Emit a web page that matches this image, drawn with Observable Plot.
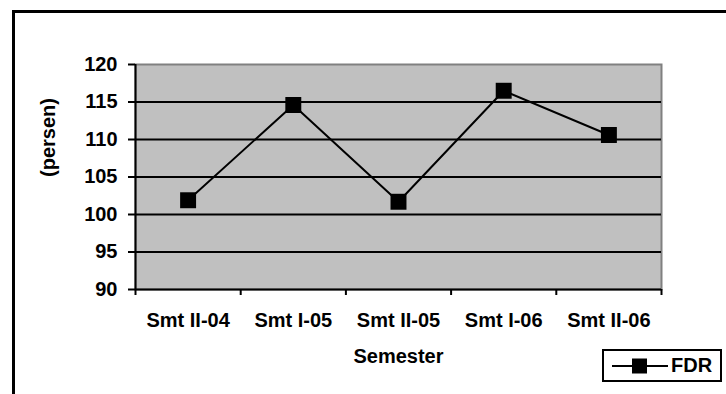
<!DOCTYPE html>
<html>
<head>
<meta charset="utf-8">
<script src="https://cdn.jsdelivr.net/npm/d3@7"></script>
<script src="https://cdn.jsdelivr.net/npm/@observablehq/plot@0.6"></script>
<style>
  html, body { margin: 0; padding: 0; background: #fff; overflow: hidden; }
  #wrap { position: relative; width: 726px; height: 394px; overflow: hidden;
          font-family: "Liberation Sans", Arial, sans-serif; }
  #border { position: absolute; left: 12px; top: 10px; width: 900px; height: 600px;
            border-top: 3px solid #000; border-left: 3px solid #000; box-sizing: border-box; }
  #chart { position: absolute; left: 0; top: 0; }
  #legend { position: absolute; left: 602px; top: 349px; width: 120px; height: 33px;
            box-sizing: border-box; border: 2px solid #000; background: #fff;
            display: flex; align-items: center; font-weight: bold; font-size: 20px; }
  #legend svg { margin-left: 8px; margin-right: 3px; }
</style>
</head>
<body>
<div id="wrap">
  <div id="border"></div>
  <div id="chart"></div>
  <div id="legend">
    <svg width="56" height="20"><line x1="0" y1="10" x2="56" y2="10" stroke="#000" stroke-width="2"/><rect x="20" y="2.5" width="15" height="15" fill="#000"/></svg>
    <span>FDR</span>
  </div>
</div>
<script>
// Semester labels and FDR values (persen)
const semesters = ["Smt II-04", "Smt I-05", "Smt II-05", "Smt I-06", "Smt II-06"];
const fdr = [101.9, 114.6, 101.7, 116.5, 110.6];
const yTicks = [90, 95, 100, 105, 110, 115, 120];

const rows = semesters.map((s, i) => ({i, semester: s, value: fdr[i]}));
const centers = semesters.map((s, i) => i);
const edges = d3.range(semesters.length + 1).map(i => i - 0.5);
const yMin = d3.min(yTicks), yMax = d3.max(yTicks);

const chart = Plot.plot({
  width: 726,
  height: 394,
  marginLeft: 135,
  marginRight: 65,
  marginTop: 64,
  marginBottom: 105,
  style: {
    fontFamily: '"Liberation Sans", Arial, sans-serif',
    fontSize: "20px",
    fontWeight: "bold",
    color: "#000",
    background: "transparent",
    overflow: "visible"
  },
  x: {type: "linear", domain: [edges[0], edges[edges.length - 1]], axis: null},
  y: {domain: [yMin, yMax], axis: null},
  marks: [
    Plot.frame({fill: "#c0c0c0", stroke: "#808080", strokeWidth: 2}),
    Plot.ruleY(yTicks.filter(v => v > yMin && v < yMax), {stroke: "#000", strokeWidth: 2}),
    Plot.ruleX([edges[0]], {stroke: "#000", strokeWidth: 2}),
    Plot.ruleY([yMin], {stroke: "#000", strokeWidth: 2}),
    Plot.axisY(yTicks, {tickSize: 7, tickPadding: 11, strokeWidth: 2, label: null}),
    Plot.axisX(edges, {tickSize: 6, strokeWidth: 2, tickFormat: () => "", label: null}),
    Plot.axisX(centers, {tickSize: 0, tickPadding: 23, tickFormat: i => semesters[i], label: null}),
    Plot.text(["Semester"], {frameAnchor: "bottom", lineAnchor: "top", dy: 59, text: d => d}),
    Plot.text(["(persen)"], {frameAnchor: "left", rotate: -90, dx: -87, text: d => d}),
    Plot.line(rows, {x: "i", y: "value", stroke: "#000", strokeWidth: 2}),
    Plot.dot(rows, {x: "i", y: "value", symbol: "square", r: 9, fill: "#000", stroke: "none"})
  ]
});
document.getElementById("chart").appendChild(chart);
</script>
</body>
</html>
